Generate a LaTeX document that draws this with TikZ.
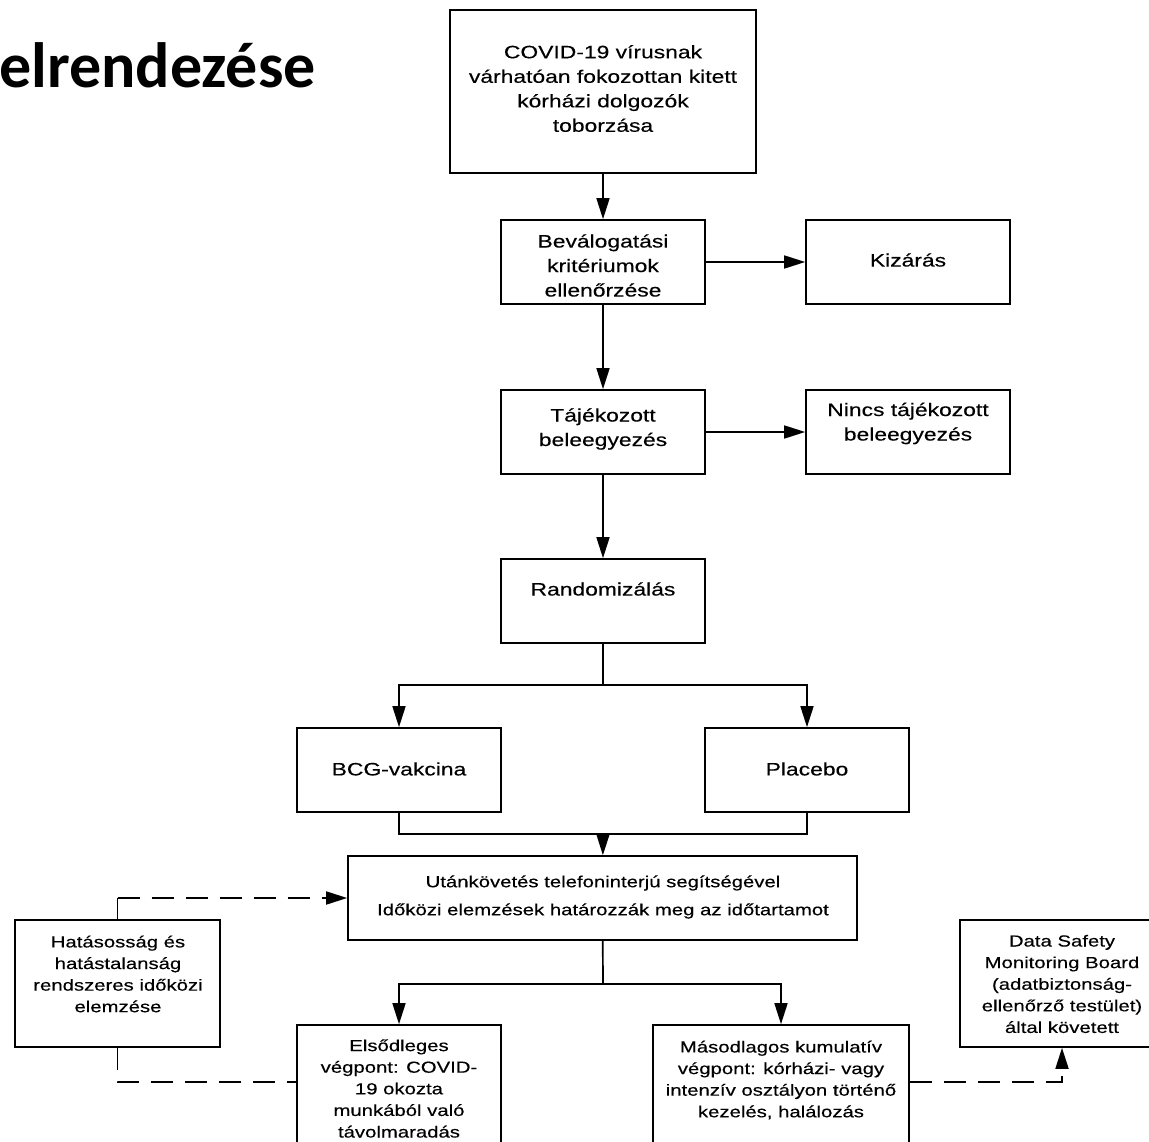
\documentclass[tikz,border=0pt]{standalone}
\usepackage{fontspec}
\setmainfont{Liberation Sans}[FakeStretch=1.27,FakeBold=0.3]
\newfontfamily\titlefont{Carlito}
\usetikzlibrary{arrows.meta}
\tikzset{
  box/.style={draw, line width=1.7pt, rectangle, inner sep=0pt, minimum width=#1},
  box/.default={204pt},
  bigtxt/.style={align=center, inner sep=0pt, font=\fontsize{18}{24.5}\selectfont},
  smalltxt/.style={align=center, inner sep=0pt, font=\fontsize{16}{21.6}\selectfont},
  conn/.style={line width=1.7pt},
  arr/.style={conn, -{Triangle[length=21pt,width=13pt]}},
  dsh/.style={line width=1.8pt, dash pattern=on 22pt off 12pt},
}
\begin{document}
\begin{tikzpicture}[x=1pt,y=-1pt]
\useasboundingbox (0,0) rectangle (1149,1142);
\clip (0,0) rectangle (1149,1142);
% title
\node[anchor=base west, inner sep=0pt, font=\titlefont\bfseries\fontsize{64}{72}\selectfont] (title) at (-1,88) {elrendezése};
% boxes
\node[box=306pt, minimum height=163pt] (top) at (603,91.5) {};
\node[box, minimum height=84pt] (bev) at (603,262) {};
\node[box, minimum height=84pt] (kiz) at (908,262) {};
\node[box, minimum height=84pt] (taj) at (603,432) {};
\node[box, minimum height=84pt] (nincs) at (908,432) {};
\node[box, minimum height=84pt] (rand) at (603,601) {};
\node[box, minimum height=84pt] (bcg) at (399,770) {};
\node[box, minimum height=84pt] (plac) at (807,770) {};
\node[box=509pt, minimum height=84pt] (utan) at (602.5,898) {};
\node[box=205pt, minimum height=127pt] (hat) at (117.5,983.5) {};
\node[box=204pt, minimum height=127pt] (data) at (1062,983.5) {};
\node[box=204pt, minimum height=125pt] (elso) at (399,1087.5) {};
\node[box=256pt, minimum height=125pt] (maso) at (781,1087.5) {};
% texts
\node[bigtxt] (ttop) at (603,88.5) {COVID-19 vírusnak\\várhatóan fokozottan kitett\\kórházi dolgozók\\toborzása};
\node[bigtxt] (tbev) at (603,265.5) {Beválogatási\\kritériumok\\ellenőrzése};
\node[bigtxt] (tkiz) at (908,260) {Kizárás};
\node[bigtxt] (ttaj) at (603,429) {Tájékozott\\beleegyezés};
\node[bigtxt] (tnincs) at (908,423.5) {Nincs tájékozott\\beleegyezés};
\node[bigtxt] (trand) at (603,589) {Randomizálás};
\node[bigtxt] (tbcg) at (399,769) {BCG-vakcina};
\node[bigtxt] (tplac) at (807,769) {Placebo};
\node[smalltxt, font=\fontsize{16}{28}\selectfont] (tutan) at (603,897) {Utánkövetés telefoninterjú segítségével\\Időközi elemzések határozzák meg az időtartamot};
\node[smalltxt] (that) at (118,974) {Hatásosság és\\hatástalanság\\rendszeres időközi\\elemzése};
\node[smalltxt] (tdata) at (1062,984) {Data Safety\\Monitoring Board\\(adatbiztonság-\\ellenőrző testület)\\által követett};
\node[smalltxt] (telso) at (399,1088.5) {Elsődleges\\végpont: COVID-\\19 okozta\\munkából való\\távolmaradás};
\node[smalltxt] (tmaso) at (781,1080) {Másodlagos kumulatív\\végpont: kórházi- vagy\\intenzív osztályon történő\\kezelés, halálozás};
% connectors
\draw[arr] (top) -- (bev);
\draw[arr] (bev) -- (kiz);
\draw[arr] (bev) -- (taj);
\draw[arr] (taj) -- (nincs);
\draw[arr] (taj) -- (rand);
\coordinate (split1) at (603,685);
\draw[conn] (rand) -- (split1);
\draw[arr] (split1) -| (bcg);
\draw[arr] (split1) -| (plac);
\coordinate (merge) at (603,834);
\draw[conn] (bcg) |- (merge);
\draw[conn] (plac) |- (merge);
\draw[arr] (merge) -- (utan);
\coordinate (split2) at (603,984);
\draw[conn] (utan) -- (split2);
\draw[arr] (split2) -| (elso);
\draw[arr] (split2) -| (maso);
% dashed
\coordinate (hatup) at (117.5,898);
\draw[dsh] (hat.north) -- (hatup);
\draw[dsh, -{Triangle[length=21pt,width=13pt]}] (hatup) -- (utan.west |- hatup);
\draw[dsh] (hat.south) |- ([yshift=-58pt]elso.north west);
\draw[dsh, -{Triangle[length=21pt,width=13pt]}] ([yshift=-58pt]maso.north east) -| (data.south);
\end{tikzpicture}
\end{document}
